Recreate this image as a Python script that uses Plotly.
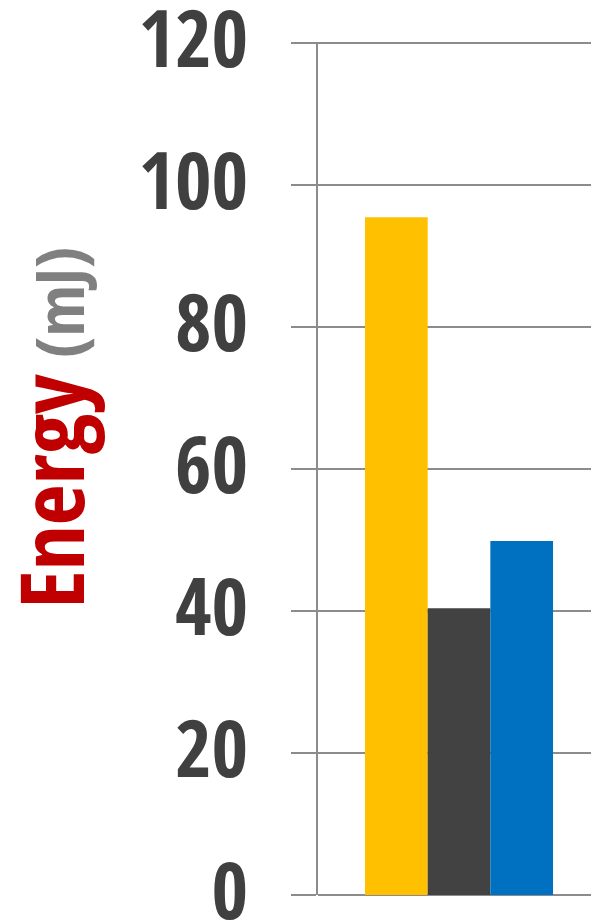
import plotly.graph_objects as go

# Energy per configuration (mJ)
series_names = ["A", "B", "C"]
energy_mj = [95.5, 40.4, 49.9]
bar_colors = ["#FFC000", "#424242", "#0070C0"]
y_ticks = [0, 20, 40, 60, 80, 100, 120]

GRID = "#8C8C8C"
FONT = "Open Sans Condensed, Roboto Condensed, sans-serif"

fig = go.Figure()
for name, val, col in zip(series_names, energy_mj, bar_colors):
    fig.add_trace(go.Bar(x=[0], y=[val], name=name, marker=dict(color=col, line=dict(width=0))))

fig.update_layout(
    width=591, height=923,
    margin=dict(l=318, r=0, t=42, b=28, autoexpand=False),
    paper_bgcolor="white", plot_bgcolor="white",
    barmode="group", bargap=1/3, bargroupgap=0,
    showlegend=False,
    xaxis=dict(range=[-0.5, 0.468], showticklabels=False, showgrid=False,
               zeroline=False, showline=False, ticks="", automargin=False),
    yaxis=dict(range=[0, 120.2], tickvals=y_ticks, ticktext=[str(v) for v in y_ticks],
               showgrid=True, gridcolor=GRID, gridwidth=2,
               zeroline=True, zerolinecolor=GRID, zerolinewidth=2,
               showline=True, linecolor=GRID, linewidth=2,
               ticks="outside", ticklen=25, tickcolor=GRID, tickwidth=2,
               ticklabelstandoff=27, ticklabelshift=-4,
               ticklabeloverflow="allow", automargin=False,
               tickfont=dict(family=FONT, size=79, color="#404040", weight="bold")),
    font=dict(family=FONT),
)

fig.add_annotation(
    xref="paper", yref="paper", x=-318/273, y=(923-28-428)/853,
    xanchor="left", yanchor="middle", xshift=-14,
    textangle=-90, showarrow=False,
    text="<b><span style='color:#C00000;font-size:89px'>Energy</span>"
         "<span style='color:#808080;font-size:66px'> (mJ)</span></b>",
    font=dict(family=FONT, size=89),
)

fig.write_html("out.html")
